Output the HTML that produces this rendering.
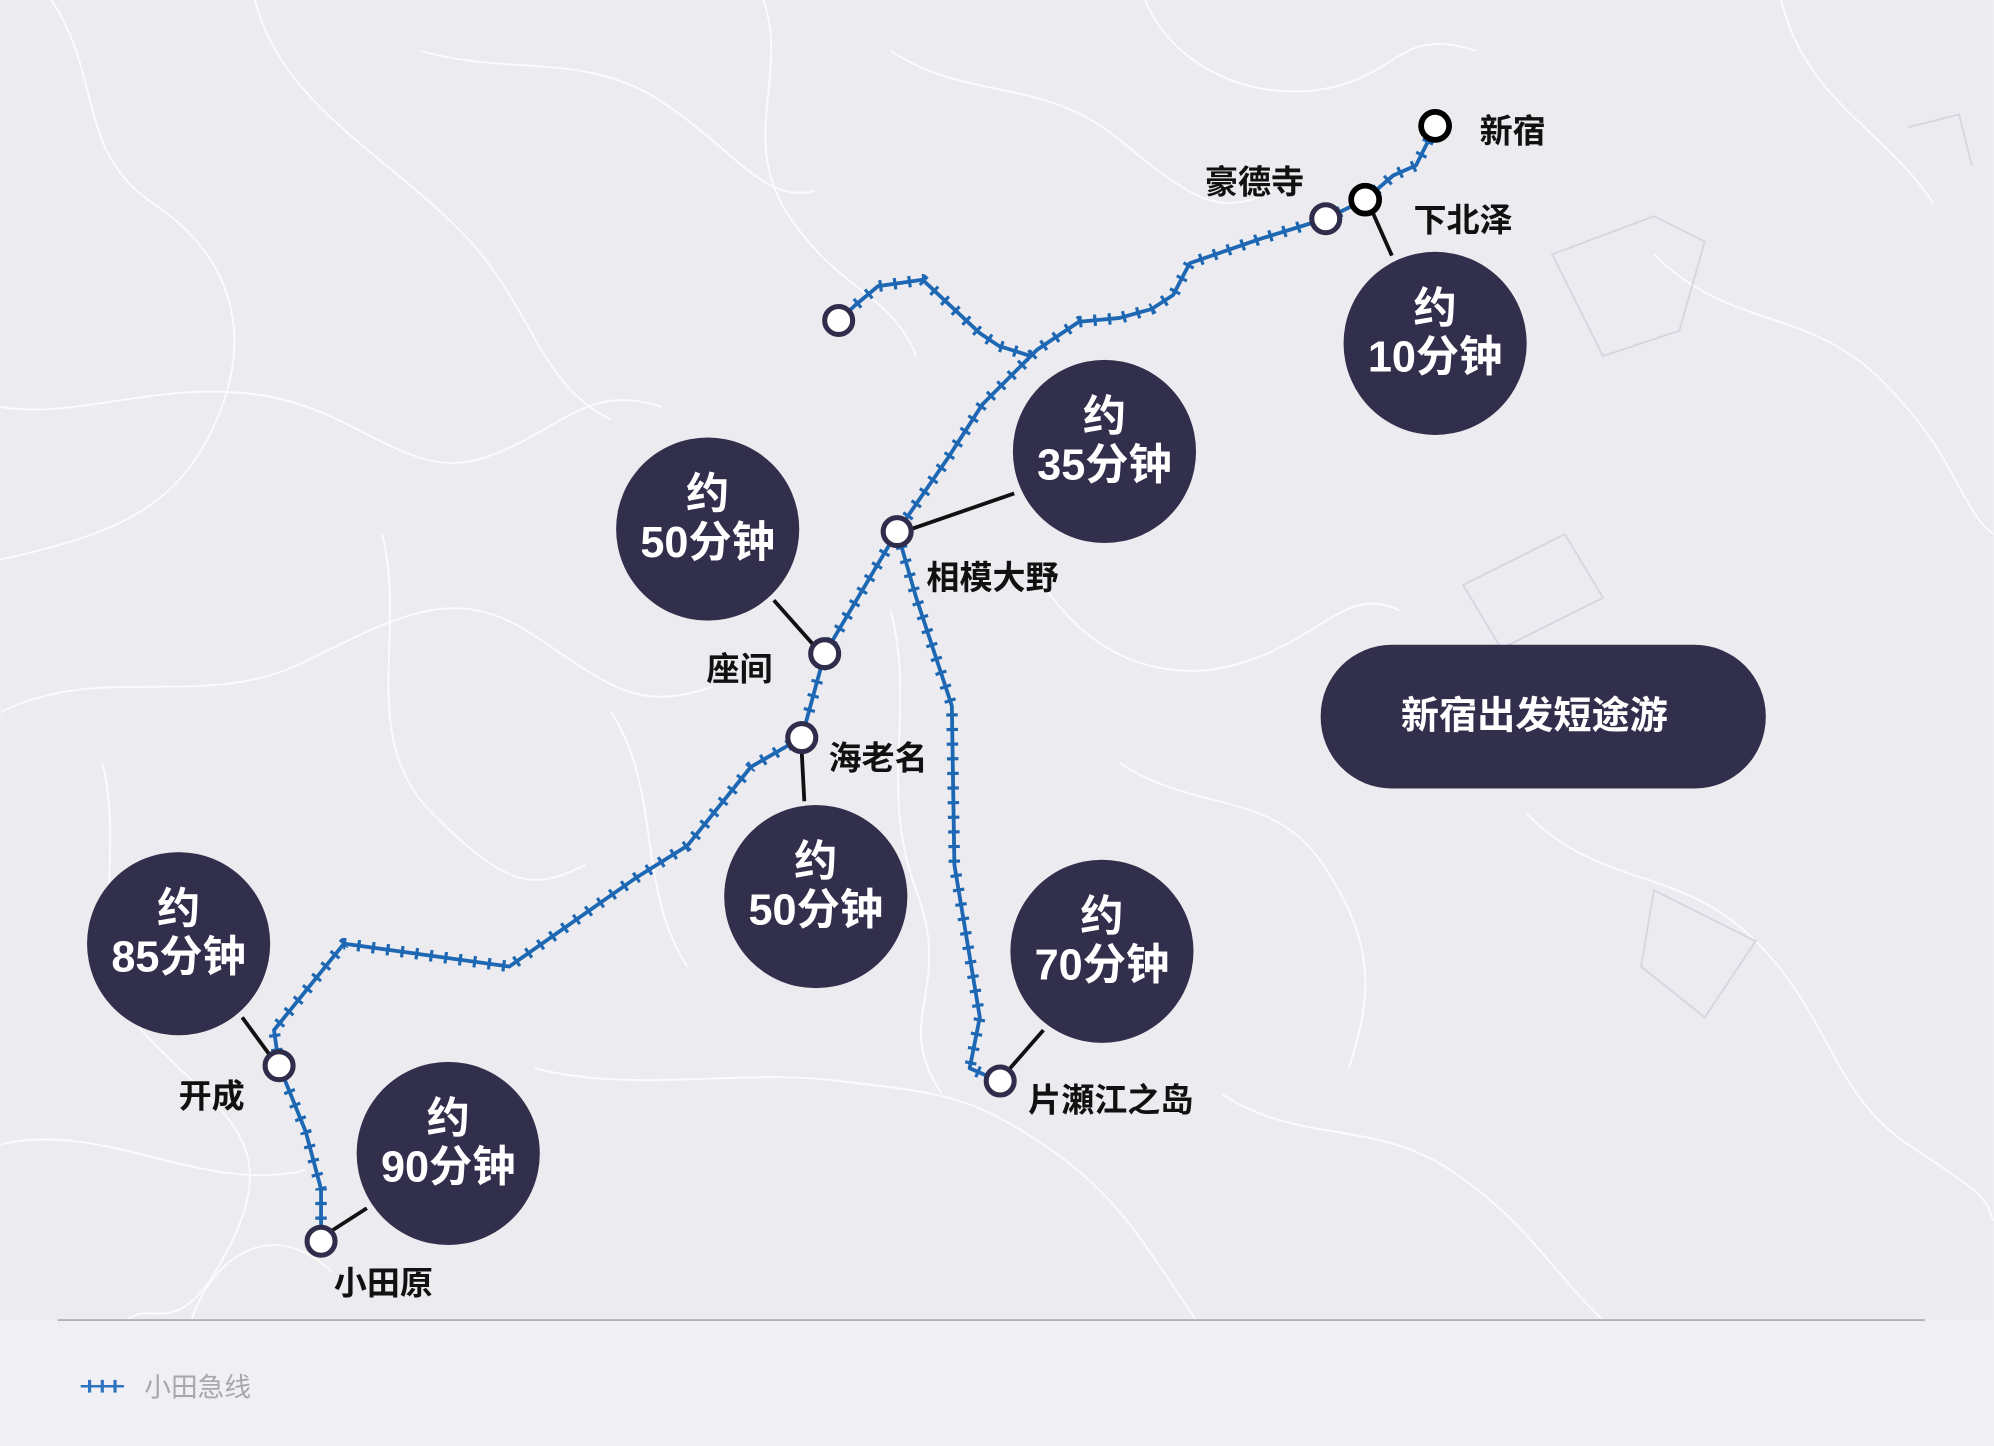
<!DOCTYPE html>
<html><head><meta charset="utf-8"><style>
html,body{margin:0;padding:0;background:#efeff3;}
svg{display:block;}
text{font-family:"Liberation Sans","Noto Sans CJK SC",sans-serif;}
</style></head><body>
<svg width="1994" height="1446" viewBox="0 0 1567 1137" xmlns="http://www.w3.org/2000/svg">
<rect width="1567" height="1137" fill="#f0f0f4"/>
<rect width="1567" height="1038" fill="#ececf0"/>
<g fill="none" stroke="#ffffff" stroke-width="1.5" opacity="0.8">
<path d="M40 0 C80 60 60 120 120 160 S200 260 170 330 S90 420 0 440"/>
<path d="M0 320 C60 330 120 300 200 310 S320 380 380 360 S460 300 520 320"/>
<path d="M200 0 C220 80 300 120 360 180 S420 300 480 330"/>
<path d="M330 40 C400 60 460 40 520 80 S600 160 640 150"/>
<path d="M600 0 C620 60 580 110 620 170 S700 230 720 280"/>
<path d="M700 40 C760 80 820 60 880 110 S960 170 1000 150"/>
<path d="M900 0 C920 50 980 80 1040 70 S1100 20 1160 40"/>
<path d="M0 560 C80 520 160 560 240 520 S360 460 420 500 S500 560 560 540"/>
<path d="M80 600 C100 680 60 760 120 820 S220 900 180 980 S120 1020 100 1038"/>
<path d="M300 420 C320 500 280 580 340 640 S420 700 460 680"/>
<path d="M0 900 C80 880 160 940 240 920"/>
<path d="M420 840 C500 860 580 840 660 850 S760 860 820 900 S900 980 940 1038"/>
<path d="M820 460 C860 520 920 540 980 520 S1060 460 1100 480"/>
<path d="M880 600 C940 640 1000 620 1040 680 S1080 780 1060 840"/>
<path d="M960 860 C1020 900 1080 880 1140 920 S1220 1000 1260 1038"/>
<path d="M1200 640 C1260 700 1320 680 1380 740 S1440 860 1500 900 S1560 940 1567 960"/>
<path d="M1300 200 C1360 260 1420 240 1480 300 S1540 400 1567 420"/>
<path d="M1400 0 C1420 80 1480 100 1520 160"/>
<path d="M700 480 C720 560 690 620 720 700 S700 800 740 860"/>
<path d="M480 560 C520 620 500 700 540 760"/>
<path d="M150 1038 C170 980 220 960 260 1000"/>
</g>
<g fill="none" stroke="#d6d6e2" stroke-width="1.5">
<path d="M1220 200 L1300 170 L1340 190 L1320 260 L1260 280 Z"/>
<path d="M1150 460 L1230 420 L1260 470 L1180 510 Z"/>
<path d="M1300 700 L1380 740 L1340 800 L1290 760 Z"/>
<path d="M1500 100 L1540 90 L1550 130"/>
</g>
<line x1="45" y1="1038" x2="1513" y2="1038" stroke="#b0b0b6" stroke-width="1.5"/>
<g fill="none" stroke="#1d67b3" stroke-linejoin="round">
<path d="M1128 100 L1113 130 L1095 138 L1073 157 L1042 172 L990 188 L935 207 L922 232 L905 243 L880 250 L848 253 L815 275 L800 290 L772 318 L745 360 L705 418 L648 514 L630 580 L590 603 L540 665 L500 690 L400 760 L270 742 L215 810 L219 838 L240 890 L252 935 L252 976" stroke-width="3"/>
<path d="M1128 100 L1113 130 L1095 138 L1073 157 L1042 172 L990 188 L935 207 L922 232 L905 243 L880 250 L848 253 L815 275 L800 290 L772 318 L745 360 L705 418 L648 514 L630 580 L590 603 L540 665 L500 690 L400 760 L270 742 L215 810 L219 838 L240 890 L252 935 L252 976" stroke-width="9" stroke-dasharray="2.5 9"/>
<path d="M810 280 L785 272 L770 262 L725 220 L690 225 L672 240 L659 252" stroke-width="3"/>
<path d="M810 280 L785 272 L770 262 L725 220 L690 225 L672 240 L659 252" stroke-width="9" stroke-dasharray="2.5 9"/>
<path d="M705 418 L720 470 L748 555 L750 680 L770 800 L762 840 L785 850" stroke-width="3"/>
<path d="M705 418 L720 470 L748 555 L750 680 L770 800 L762 840 L785 850" stroke-width="9" stroke-dasharray="2.5 9"/>
</g>
<g stroke="#111" stroke-width="3">
<line x1="1094" y1="201" x2="1078" y2="165"/>
<line x1="797" y1="388" x2="716" y2="416"/>
<line x1="608" y1="472" x2="640" y2="508"/>
<line x1="632" y1="630" x2="630" y2="592"/>
<line x1="190" y1="800" x2="212" y2="830"/>
<line x1="288" y1="950" x2="260" y2="968"/>
<line x1="820" y1="810" x2="792" y2="842"/>
</g>
<g fill="#fff" stroke="#2f2d4b" stroke-width="4">
<circle cx="1042" cy="172" r="11"/>
<circle cx="659" cy="252" r="11"/>
<circle cx="705" cy="418" r="11"/>
<circle cx="648" cy="514" r="11"/>
<circle cx="630" cy="580" r="11"/>
<circle cx="219" cy="838" r="11"/>
<circle cx="252" cy="976" r="11"/>
<circle cx="786" cy="850" r="11"/>
</g>
<g fill="#fff" stroke="#000" stroke-width="4.5">
<circle cx="1128" cy="99" r="11"/>
<circle cx="1073" cy="157" r="11"/>
</g>
<g fill="#322f4c">
<circle cx="1128" cy="270" r="72"/>
<circle cx="868" cy="355" r="72"/>
<circle cx="556" cy="416" r="72"/>
<circle cx="641" cy="705" r="72"/>
<circle cx="140" cy="742" r="72"/>
<circle cx="352" cy="907" r="72"/>
<circle cx="866" cy="748" r="72"/>
<rect x="1038" y="507" width="350" height="113" rx="56"/>
</g>
<g fill="#fff" font-size="34" text-anchor="middle" font-weight="bold">
<text x="1128" y="254">约</text><text x="1128" y="292">10分钟</text>
<text x="868" y="339">约</text><text x="868" y="377">35分钟</text>
<text x="556" y="400">约</text><text x="556" y="438">50分钟</text>
<text x="641" y="689">约</text><text x="641" y="727">50分钟</text>
<text x="140" y="726">约</text><text x="140" y="764">85分钟</text>
<text x="352" y="891">约</text><text x="352" y="929">90分钟</text>
<text x="866" y="732">约</text><text x="866" y="770">70分钟</text>
<text x="1206" y="573" font-size="30">新宿出发短途游</text>
</g>
<g fill="#111" font-size="26" font-weight="bold">
<text x="1163" y="112">新宿</text>
<text x="947" y="152">豪德寺</text>
<text x="1111" y="182">下北泽</text>
<text x="728" y="463">相模大野</text>
<text x="555" y="535">座间</text>
<text x="651" y="605">海老名</text>
<text x="140" y="871">开成</text>
<text x="262" y="1018">小田原</text>
<text x="808" y="874">片瀬江之岛</text>
</g>
<g stroke="#2f73c0">
<line x1="63" y1="1090" x2="97" y2="1090" stroke-width="2"/>
<line x1="70" y1="1085" x2="70" y2="1095" stroke-width="2.5"/>
<line x1="80" y1="1085" x2="80" y2="1095" stroke-width="2.5"/>
<line x1="90" y1="1085" x2="90" y2="1095" stroke-width="2.5"/>
</g>
<text x="113" y="1098" font-size="21" fill="#a6a6ae">小田急线</text>
</svg>
</body></html>
